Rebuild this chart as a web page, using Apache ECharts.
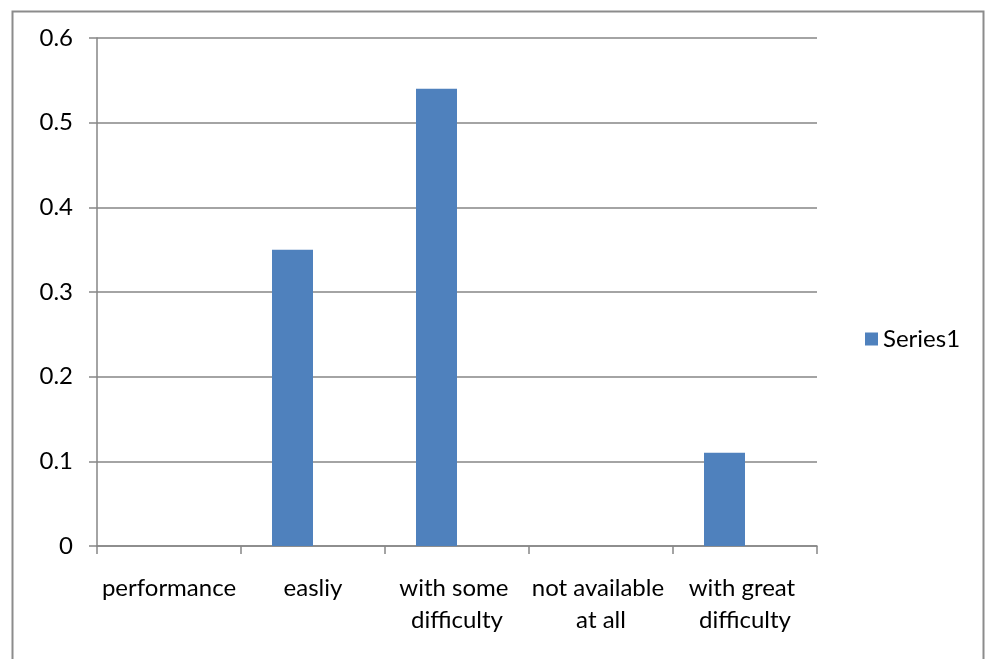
<!DOCTYPE html>
<html>
<head>
<meta charset="utf-8">
<script src="https://cdn.jsdelivr.net/npm/echarts@6/dist/echarts.min.js"></script>
<style>html,body{margin:0;padding:0;background:#fff}#c{width:985px;height:659px}</style>
</head>
<body>
<div id="c"></div>
<script>
var categories = ['performance', 'easliy', 'with some difficulty', 'not available at all', 'with great difficulty'];
var series1 = [0, 0.35, 0.54, 0, 0.11];
var yTicks = [0, 0.1, 0.2, 0.3, 0.4, 0.5, 0.6];

var chart = echarts.init(document.getElementById('c'), null, {renderer: 'canvas'});
var FONT = 'Lato';
chart.setOption({
  animation: false,
  backgroundColor: '#fff',
  graphic: [{
    type: 'rect', left: 10, top: 9,
    shape: {width: 971, height: 680},
    style: {fill: 'none', stroke: '#8c8c8c', lineWidth: 2}
  }],
  grid: {left: 97, right: 168, top: 38, bottom: 113, containLabel: false},
  legend: {
    data: ['Series1'], orient: 'vertical', left: 860, top: 322,
    itemWidth: 13, itemHeight: 13, itemGap: 8, icon: 'rect',
    textStyle: {fontFamily: FONT, fontSize: 24, color: '#000', padding: [0, 0, 0, 0]}
  },
  xAxis: {
    type: 'category', data: categories,
    axisLine: {lineStyle: {color: '#868686', width: 1.5}},
    axisTick: {show: true, length: 8, alignWithLabel: false, lineStyle: {color: '#868686', width: 1.5}},
    axisLabel: {
      fontFamily: FONT, fontSize: 24, color: '#000', margin: 26, lineHeight: 32,
      interval: 0, width: 142, overflow: 'break'
    }
  },
  yAxis: {
    type: 'value', min: yTicks[0], max: yTicks[yTicks.length - 1], interval: 0.1,
    axisLine: {show: true, lineStyle: {color: '#868686', width: 1.5}},
    axisTick: {show: true, length: 8, lineStyle: {color: '#868686', width: 1.5}},
    splitLine: {show: true, lineStyle: {color: '#868686', width: 1.5}},
    axisLabel: {fontFamily: FONT, fontSize: 24, color: '#000', margin: 24,
      formatter: function (v) { return String(Math.round(v * 10) / 10); }}
  },
  series: [
    {name: 'Series1', type: 'bar', data: series1, barWidth: 41, barGap: '0%',
      itemStyle: {color: '#4F81BD'}},
    {name: 'Series2', type: 'bar', data: categories.map(function(){return null;}), barWidth: 41,
      itemStyle: {color: '#C0504D'}}
  ]
});
</script>
</body>
</html>
